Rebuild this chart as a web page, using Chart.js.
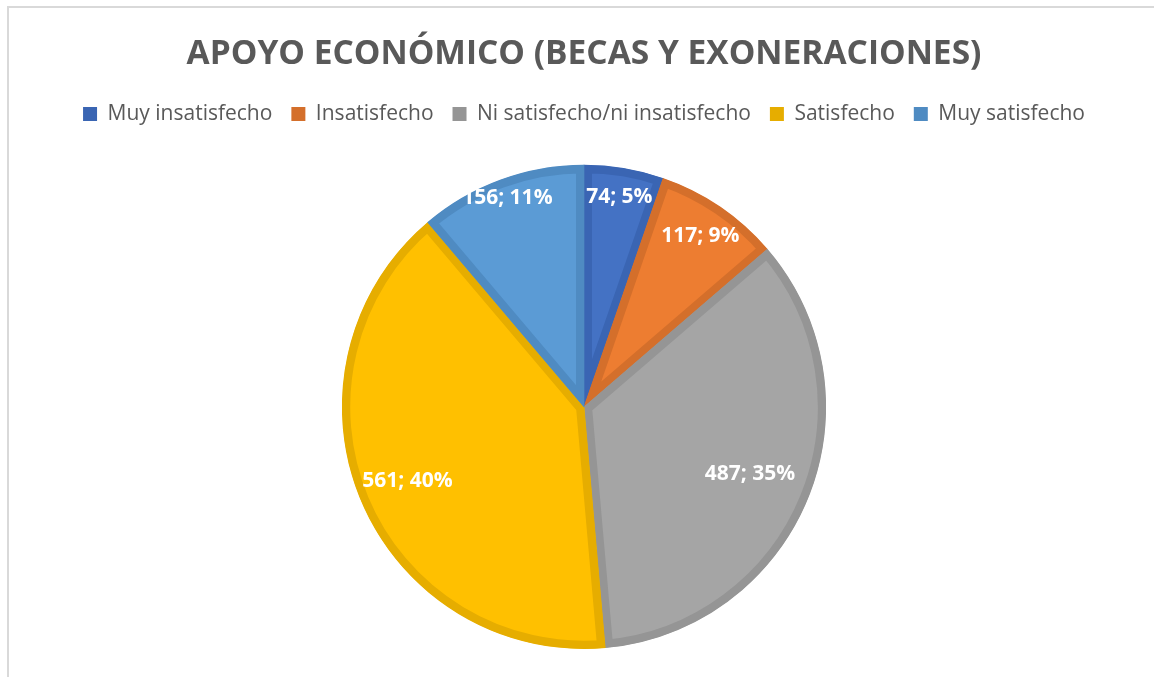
<!DOCTYPE html>
<html>
<head>
<meta charset="utf-8">
<script src="https://cdn.jsdelivr.net/npm/chart.js@4.4.1/dist/chart.umd.min.js"></script>
<style>
  html, body { margin: 0; padding: 0; background: #ffffff; overflow: hidden; width: 1154px; height: 677px; }
  #frame { position: absolute; left: 7px; top: 6px; width: 1160px; height: 690px; border: 2px solid #d9d9d9; box-sizing: border-box; }
  #wrap { position: absolute; left: 7px; top: 6px; width: 1154px; height: 677px; }
</style>
</head>
<body>
<div id="frame"></div>
<div id="wrap"><canvas id="c" width="1154" height="677"></canvas></div>
<script>
const categories = ["Muy insatisfecho", "Insatisfecho", "Ni satisfecho/ni insatisfecho", "Satisfecho", "Muy satisfecho"];
const counts = [74, 117, 487, 561, 156];
const percentLabels = ["5%", "9%", "35%", "40%", "11%"];
const fillColors = ["#4472C4", "#ED7D31", "#A5A5A5", "#FFC000", "#5B9BD5"];
const edgeColors = ["#3A65B3", "#D46F2B", "#959595", "#E6AD00", "#4F8BC2"];
const titleText = "APOYO ECONÓMICO (BECAS Y EXONERACIONES)";

const labelPlugin = {
  id: 'sliceLabels',
  afterDatasetsDraw(chart, args, opts) {
    const ctx = chart.ctx;
    const meta = chart.getDatasetMeta(0);
    ctx.save();
    ctx.font = opts.font;
    ctx.fillStyle = opts.color;
    ctx.textAlign = 'center';
    ctx.textBaseline = 'middle';
    meta.data.forEach((arc, i) => {
      const p = arc.getProps(['x', 'y', 'startAngle', 'endAngle', 'outerRadius'], true);
      const mid = (p.startAngle + p.endAngle) / 2;
      const r = p.outerRadius * opts.radius[i];
      ctx.fillText(counts[i] + '; ' + percentLabels[i], p.x + Math.cos(mid) * r, p.y + Math.sin(mid) * r);
    });
    ctx.restore();
  }
};

new Chart(document.getElementById('c'), {
  type: 'pie',
  data: {
    labels: categories,
    datasets: [{
      data: counts,
      backgroundColor: fillColors,
      borderColor: edgeColors,
      borderWidth: 8,
      borderAlign: 'inner'
    }]
  },
  options: {
    responsive: false,
    animation: false,
    layout: { padding: { top: 0, bottom: 34, left: 0, right: 0 } },
    plugins: {
      title: {
        display: true,
        text: titleText,
        color: '#595959',
        font: { family: 'Open Sans', size: 33.5, weight: 'bold' },
        padding: { top: 28, bottom: 10.4 }
      },
      subtitle: {
        display: true,
        text: ' ',
        weight: 500,
        font: { size: 1 },
        padding: { top: 0, bottom: 29 }
      },
      legend: {
        display: true,
        position: 'top',
        labels: {
          color: '#595959',
          font: { family: 'Open Sans', size: 21 },
          boxWidth: 14,
          boxHeight: 14,
          padding: 19,
          generateLabels(chart) {
            return categories.map((c, i) => ({
              text: c, fillStyle: edgeColors[i], strokeStyle: edgeColors[i], lineWidth: 0, index: i, hidden: false, fontColor: '#595959'
            }));
          }
        }
      },
      tooltip: { enabled: false },
      sliceLabels: {
        font: 'bold 21px "Open Sans"',
        color: '#ffffff',
        radius: [0.88, 0.855, 0.74, 0.79, 0.92]
      }
    }
  },
  plugins: [labelPlugin]
});
</script>
</body>
</html>
